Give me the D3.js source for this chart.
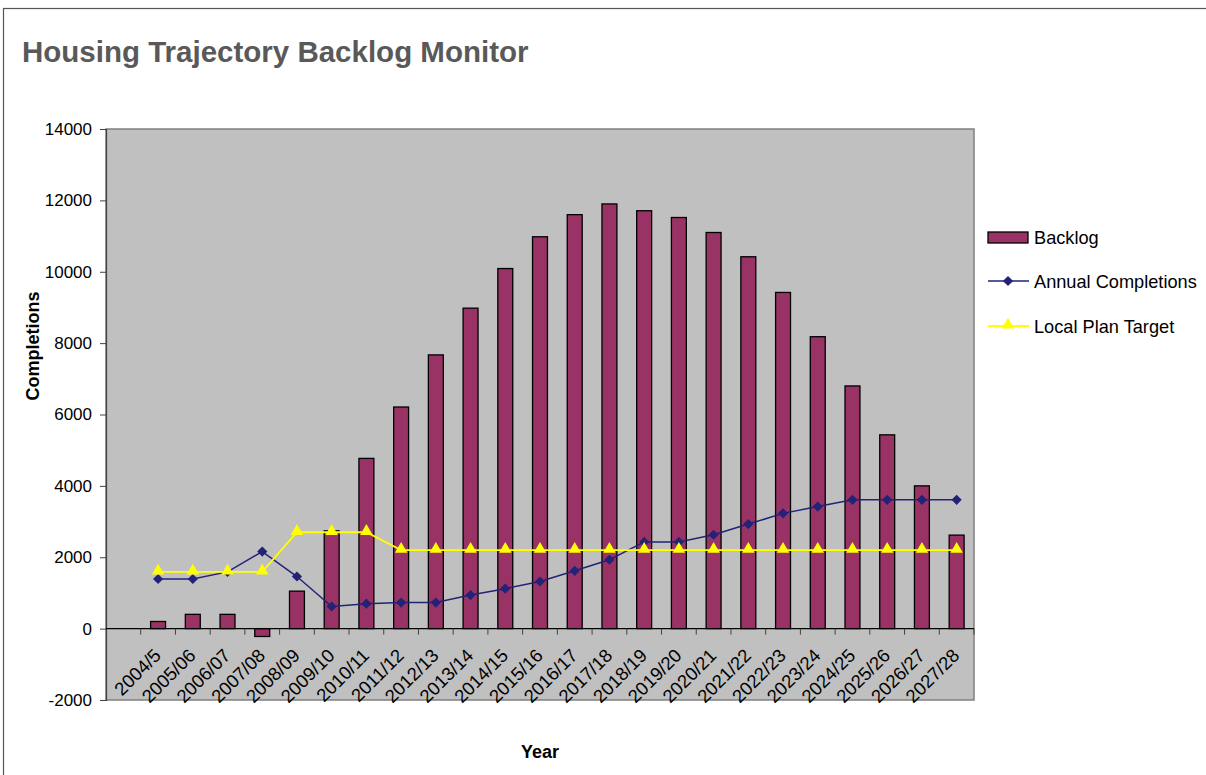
<!DOCTYPE html>
<html>
<head>
<meta charset="utf-8">
<script src="https://cdnjs.cloudflare.com/ajax/libs/d3/7.8.5/d3.min.js"></script>
<style>
  body { margin: 0; background: #ffffff; }
  svg text { font-family: "Liberation Sans", Arial, sans-serif; }
</style>
</head>
<body>
<div id="chartDiv"></div>
<script>
//--------------------------------------------------------------------------------
// values; first category is an empty slot
var years = ["", "2004/5", "2005/06", "2006/07", "2007/08", "2008/09", "2009/10",
             "2010/11", "2011/12", "2012/13", "2013/14", "2014/15", "2015/16",
             "2016/17", "2017/18", "2018/19", "2019/20", "2020/21", "2021/22",
             "2022/23", "2023/24", "2024/25", "2025/26", "2026/27", "2027/28"];

var backlog = [null, 200, 400, 400, -220, 1050, 2740, 4770, 6210, 7670, 8980,
               10090, 10980, 11600, 11900, 11710, 11520, 11100, 10420, 9420,
               8180, 6800, 5430, 4000, 2620];

var annualCompletions = [null, 1390, 1390, 1590, 2160, 1460, 620, 700, 730, 730,
                         940, 1120, 1320, 1620, 1930, 2430, 2430, 2630, 2930,
                         3230, 3420, 3610, 3610, 3610, 3610];

var localPlanTarget = [null, 1590, 1590, 1590, 1590, 2700, 2700, 2700, 2200, 2200,
                       2200, 2200, 2200, 2200, 2200, 2200, 2200, 2200, 2200,
                       2200, 2200, 2200, 2200, 2200, 2200];

var yTicks = [-2000, 0, 2000, 4000, 6000, 8000, 10000, 12000, 14000];

var legendNames = ["Backlog", "Annual Completions", "Local Plan Target"];
//--------------------------------------------------------------------------------
var width = 1206;
var height = 775;

var plotLeft = 106, plotRight = 974, plotTop = 129, plotBottom = 700;

var barColor = "#993366";
var navy = "#222277";
var yellow = "#ffff00";

var svg = d3.select("#chartDiv")
    .append("svg")
    .attr("width", width)
    .attr("height", height);

  // outer chart frame (only top and left edges are inside the picture)
svg.append("rect")
   .attr("x", 3.5).attr("y", 8.5)
   .attr("width", width + 20).attr("height", height + 20)
   .style("fill", "none")
   .style("stroke", "#555555")
   .style("stroke-width", 1.2);

svg.append("text")
   .attr("x", 22)
   .attr("y", 62)
   .style("font-size", "29.5px")
   .style("font-weight", "bold")
   .style("fill", "#595959")
   .text("Housing Trajectory Backlog Monitor");

var xScale = d3.scaleBand()
               .domain(years)
               .range([plotLeft, plotRight])
               .padding(0);

var yScale = d3.scaleLinear()
               .domain([-2000, 14000])
               .range([plotBottom, plotTop]);

function xCenter(i) {
   return xScale(years[i]) + xScale.bandwidth() / 2;
}

  // plot area
svg.append("rect")
   .attr("x", plotLeft)
   .attr("y", plotTop)
   .attr("width", plotRight - plotLeft)
   .attr("height", plotBottom - plotTop)
   .style("fill", "#c0c0c0")
   .style("stroke", "#808080")
   .style("stroke-width", 1.5);

  // bars
var barWidth = xScale.bandwidth() * 0.43;

svg.selectAll("rect.bar")
   .data(backlog.map(function(v, i){ return {v: v, i: i}; })
                .filter(function(d){ return d.v !== null; }))
   .enter()
   .append("rect")
   .attr("class", "bar")
   .attr("x", function(d){ return xCenter(d.i) - barWidth / 2; })
   .attr("y", function(d){ return yScale(Math.max(0, d.v)); })
   .attr("width", barWidth)
   .attr("height", function(d){ return Math.abs(yScale(d.v) - yScale(0)); })
   .style("fill", barColor)
   .style("stroke", "#000000")
   .style("stroke-width", 1.3);

  // y axis, plain hyphen for the minus sign
var yAxis = d3.axisLeft(yScale)
              .tickValues(yTicks)
              .tickSize(6)
              .tickPadding(8)
              .tickFormat(function(d){ return String(d); });

var yAxisG = svg.append("g")
   .attr("transform", "translate(" + plotLeft + ",0)")
   .call(yAxis);

yAxisG.select(".domain").style("stroke", "#404040").style("stroke-width", 1.2);
yAxisG.selectAll(".tick line").style("stroke", "#404040");
yAxisG.selectAll("text")
      .style("font-size", "17px")
      .style("font-family", "'Liberation Sans', Arial, sans-serif")
      .style("fill", "#000000");

  // category axis sits on zero, ticks between categories
var boundaries = d3.range(1, years.length + 1).map(function(i){
   return plotLeft + i * xScale.step();
});

svg.append("line")
   .attr("x1", plotLeft).attr("x2", plotRight)
   .attr("y1", yScale(0)).attr("y2", yScale(0))
   .style("stroke", "#000000")
   .style("stroke-width", 1.2);

svg.selectAll("line.xtick")
   .data(boundaries)
   .enter()
   .append("line")
   .attr("class", "xtick")
   .attr("x1", function(d){ return d; })
   .attr("x2", function(d){ return d; })
   .attr("y1", yScale(0))
   .attr("y2", yScale(0) + 6)
   .style("stroke", "#404040");

svg.selectAll("text.xlabel")
   .data(years.slice(1))
   .enter()
   .append("text")
   .attr("class", "xlabel")
   .attr("text-anchor", "end")
   .attr("transform", function(d, i){
      return "translate(" + (xCenter(i + 1) + 4) + "," + (yScale(0) + 28) + ") rotate(-45)";
      })
   .style("font-size", "18.5px")
   .text(function(d){ return d; });

  // lines
var lineGen = d3.line()
    .defined(function(d){ return d.v !== null; })
    .x(function(d){ return xCenter(d.i); })
    .y(function(d){ return yScale(d.v); });

function seriesPoints(arr) {
   return arr.map(function(v, i){ return {v: v, i: i}; });
}

var diamond = d3.symbol().type(d3.symbolSquare).size(52);
var triangle = d3.symbol().type(d3.symbolTriangle).size(68);

svg.append("path")
   .datum(seriesPoints(annualCompletions))
   .attr("d", lineGen)
   .style("fill", "none")
   .style("stroke", navy)
   .style("stroke-width", 1.5);

svg.selectAll("path.dmark")
   .data(seriesPoints(annualCompletions).filter(function(d){ return d.v !== null; }))
   .enter()
   .append("path")
   .attr("class", "dmark")
   .attr("d", diamond)
   .attr("transform", function(d){
      return "translate(" + xCenter(d.i) + "," + yScale(d.v) + ") rotate(45)";
      })
   .style("fill", navy);

svg.append("path")
   .datum(seriesPoints(localPlanTarget))
   .attr("d", lineGen)
   .style("fill", "none")
   .style("stroke", yellow)
   .style("stroke-width", 1.8);

svg.selectAll("path.tmark")
   .data(seriesPoints(localPlanTarget).filter(function(d){ return d.v !== null; }))
   .enter()
   .append("path")
   .attr("class", "tmark")
   .attr("d", triangle)
   .attr("transform", function(d){
      return "translate(" + xCenter(d.i) + "," + (yScale(d.v) - 1) + ")";
      })
   .style("fill", yellow);

  // axis titles
svg.append("text")
   .attr("text-anchor", "middle")
   .attr("transform", "translate(39,346) rotate(-90)")
   .style("font-size", "18px")
   .style("font-weight", "bold")
   .text("Completions");

svg.append("text")
   .attr("text-anchor", "middle")
   .attr("x", (plotLeft + plotRight) / 2)
   .attr("y", 758)
   .style("font-size", "18px")
   .style("font-weight", "bold")
   .text("Year");

  // legend
var legendX = 988, legendY = [237, 281, 326];

var legend = svg.append("g");

legend.append("rect")
   .attr("x", legendX).attr("y", legendY[0] - 5)
   .attr("width", 40).attr("height", 11)
   .style("fill", barColor)
   .style("stroke", "#000000")
   .style("stroke-width", 1.3);

legend.append("line")
   .attr("x1", legendX).attr("x2", legendX + 41)
   .attr("y1", legendY[1]).attr("y2", legendY[1])
   .style("stroke", navy).style("stroke-width", 1.5);

legend.append("path")
   .attr("d", diamond)
   .attr("transform", "translate(" + (legendX + 20) + "," + legendY[1] + ") rotate(45)")
   .style("fill", navy);

legend.append("line")
   .attr("x1", legendX).attr("x2", legendX + 41)
   .attr("y1", legendY[2]).attr("y2", legendY[2])
   .style("stroke", yellow).style("stroke-width", 1.8);

legend.append("path")
   .attr("d", triangle)
   .attr("transform", "translate(" + (legendX + 20) + "," + (legendY[2] - 1) + ")")
   .style("fill", yellow);

legend.selectAll("text")
   .data(legendNames)
   .enter()
   .append("text")
   .attr("x", legendX + 46)
   .attr("y", function(d, i){ return legendY[i]; })
   .attr("dy", "0.36em")
   .style("font-size", "18.2px")
   .text(function(d){ return d; });
//--------------------------------------------------------------------------------
</script>
</body>
</html>
